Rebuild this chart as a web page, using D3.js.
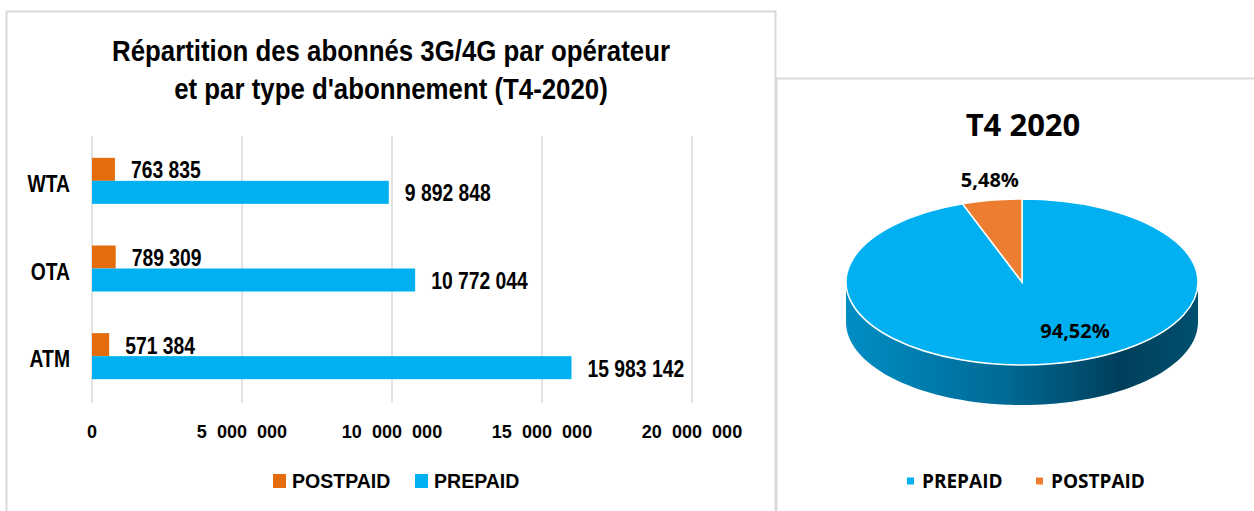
<!DOCTYPE html>
<html>
<head>
<meta charset="utf-8">
<script src="https://cdn.jsdelivr.net/npm/d3@7"></script>
<style>
  body { margin: 0; background: #fff; }
  .arial { font-family: "Liberation Sans", Arial, sans-serif; font-weight: bold; }
  .cal { font-family: "Open Sans", "Noto Sans", sans-serif; font-weight: bold; }
</style>
</head>
<body>
<div id="chart"></div>
<script>
// data
const operators = ["WTA", "OTA", "ATM"]
const types = ["POSTPAID", "PREPAID"]
const postpaid = [763835, 789309, 571384]
const prepaid = [9892848, 10772044, 15983142]
const xTicks = [0, 5000000, 10000000, 15000000, 20000000]
const titleLines = ["Répartition des abonnés 3G/4G par opérateur", "et par type d'abonnement (T4-2020)"]

const pieTitle = "T4 2020"
const pieLabels = ["PREPAID", "POSTPAID"]
const pieShares = [0.9452, 0.0548]

const barColors = { POSTPAID: "#e46c0a", PREPAID: "#00b0f0" }
const pieColors = { PREPAID: "#00b0f0", POSTPAID: "#ed7d31" }

const W = 1254, H = 511

const svg = d3.select("#chart")
    .append("svg")
    .attr("width", W)
    .attr("height", H)

// the original text is a narrow bold face, so squeeze Liberation Sans horizontally
function squeeze(sel, k) {
    sel.each(function () {
        const len = this.getComputedTextLength()
        d3.select(this).attr("textLength", len * k).attr("lengthAdjust", "spacingAndGlyphs")
    })
}

// panel frames
svg.append("rect").attr("x", 6.5).attr("y", 11.5).attr("width", 769).attr("height", 520)
    .attr("fill", "none").attr("stroke", "#d9d9d9").attr("stroke-width", 2)
svg.append("rect").attr("x", 776.5).attr("y", 78.5).attr("width", 490).attr("height", 460)
    .attr("fill", "#fff").attr("stroke", "#d9d9d9").attr("stroke-width", 2)

// ---------- left: grouped horizontal bars ----------
const fr = d3.formatLocale({ decimal: ",", thousands: "\u00a0", grouping: [3], currency: ["", ""] })
const frTick = d3.formatLocale({ decimal: ",", thousands: "\u00a0\u00a0", grouping: [3], currency: ["", ""] })

const rows = operators.map((op, i) => ({ op: op, POSTPAID: postpaid[i], PREPAID: prepaid[i] }))

const x = d3.scaleLinear().domain([0, 20000000]).range([92, 692])
const y0 = d3.scaleBand().domain(operators).range([137, 400]).paddingInner(0.475).paddingOuter(0.2375)
const y1 = d3.scaleBand().domain(types).range([0, y0.bandwidth()])

svg.append("g").attr("class", "arial")
    .selectAll("text")
    .data(titleLines)
    .enter().append("text")
    .attr("x", 391)
    .attr("y", (d, i) => 61 + i * 38)
    .attr("text-anchor", "middle").attr("font-size", 29)
    .text(d => d)
    .call(squeeze, 0.89)

// gridlines
svg.append("g")
    .selectAll("line")
    .data(xTicks)
    .enter().append("line")
    .attr("x1", d => x(d)).attr("x2", d => x(d))
    .attr("y1", 136).attr("y2", 403)
    .attr("stroke", "#d9d9d9").attr("stroke-width", 1.5)

svg.append("g").attr("class", "arial")
    .selectAll("text")
    .data(xTicks)
    .enter().append("text")
    .attr("x", d => x(d)).attr("y", 431)
    .attr("dy", "0.35em")
    .attr("text-anchor", "middle").attr("font-size", 19)
    .text(d => frTick.format(",")(d))
    .call(squeeze, 0.95)

svg.append("g").attr("class", "arial")
    .selectAll("text")
    .data(operators)
    .enter().append("text")
    .attr("x", 70).attr("y", d => y0(d) + y0.bandwidth() / 2 + 3)
    .attr("dy", "0.35em")
    .attr("text-anchor", "end").attr("font-size", 23)
    .text(d => d)
    .call(squeeze, 0.84)

const grp = svg.append("g")
    .selectAll("g")
    .data(rows)
    .enter().append("g")
    .attr("transform", d => "translate(0," + y0(d.op) + ")")

grp.selectAll("rect")
    .data(d => types.map(t => ({ key: t, value: d[t] })))
    .enter().append("rect")
    .attr("x", x(0))
    .attr("y", d => y1(d.key))
    .attr("width", d => x(d.value) - x(0))
    .attr("height", y1.bandwidth())
    .attr("fill", d => barColors[d.key])

grp.selectAll("text")
    .data(d => types.map(t => ({ key: t, value: d[t] })))
    .enter().append("text")
    .attr("class", "arial")
    .attr("x", d => x(d.value) + 16)
    .attr("y", d => y1(d.key) + y1.bandwidth() / 2 + 1)
    .attr("dy", "0.35em")
    .attr("font-size", 23)
    .text(d => fr.format(",")(d.value))
    .call(squeeze, 0.84)

// legend
const leg = svg.append("g").selectAll("g")
    .data(types)
    .enter().append("g")
    .attr("transform", (d, i) => "translate(" + [273, 415][i] + ",474)")
leg.append("rect").attr("width", 13).attr("height", 14).attr("fill", d => barColors[d])
leg.append("text").attr("class", "arial")
    .attr("x", 19).attr("y", 7).attr("dy", "0.35em")
    .attr("font-size", 21)
    .text(d => d)
    .call(squeeze, 0.93)

// ---------- right: 3D-looking pie ----------
const cx = 1022, cy = 282, rx = 176, ry = 83, depth = 40

svg.append("text").attr("class", "cal")
    .attr("x", 1023).attr("y", 125).attr("dy", "0.35em")
    .attr("text-anchor", "middle").attr("font-size", 31)
    .text(pieTitle)

const pieData = pieLabels.map((k, i) => ({ key: k, value: pieShares[i] }))
const arcs = d3.pie().sort(null).value(d => d.value)(pieData)

const defs = svg.append("defs")
const grad = defs.append("linearGradient").attr("id", "side")
    .attr("gradientUnits", "userSpaceOnUse")
    .attr("x1", cx - rx).attr("x2", cx + rx).attr("y1", 0).attr("y2", 0)
grad.selectAll("stop")
    .data([[0, "#008ec4"], [0.45, "#006a95"], [0.78, "#003f5b"], [1, "#00506f"]])
    .enter().append("stop")
    .attr("offset", d => d[0]).attr("stop-color", d => d[1])

function pt(a, dy) {
    return [cx + rx * Math.sin(a), cy - ry * Math.cos(a) + dy]
}

// side walls: only the front half (angles between pi/2 and 3pi/2) is visible
arcs.forEach(a => {
    const a0 = Math.max(a.startAngle, Math.PI / 2)
    const a1 = Math.min(a.endAngle, Math.PI * 1.5)
    if (a1 <= a0) return
    const n = 80
    const top = d3.range(n + 1).map(i => pt(a0 + (a1 - a0) * i / n, 0))
    const bot = d3.range(n + 1).map(i => pt(a1 - (a1 - a0) * i / n, depth))
    svg.append("path")
        .attr("d", "M" + top.concat(bot).join("L") + "Z")
        .attr("fill", a.data.key === "PREPAID" ? "url(#side)" : "#b85a1c")
})

const arc = d3.arc().innerRadius(0).outerRadius(rx)
svg.append("g")
    .attr("transform", "translate(" + cx + "," + cy + ") scale(1," + (ry / rx) + ")")
    .selectAll("path")
    .data(arcs)
    .enter().append("path")
    .attr("d", arc)
    .attr("fill", d => pieColors[d.data.key])
    .attr("stroke", "#fff")
    .attr("stroke-width", 1.5)
    .attr("vector-effect", "non-scaling-stroke")

const pct = fr.format(".2%")
svg.append("g").attr("class", "cal")
    .selectAll("text")
    .data(arcs)
    .enter().append("text")
    .attr("x", d => {
        const m = (d.startAngle + d.endAngle) / 2
        return d.data.key === "PREPAID" ? cx + 53 : pt(m, 0)[0] - 2
    })
    .attr("y", d => {
        const m = (d.startAngle + d.endAngle) / 2
        return d.data.key === "PREPAID" ? cy - ry * 0.6 * Math.cos(m) : pt(m, 0)[1] - 20
    })
    .attr("dy", "0.35em")
    .attr("text-anchor", "middle").attr("font-size", 20)
    .text(d => pct(d.data.value))

const leg2 = svg.append("g").selectAll("g")
    .data(pieLabels)
    .enter().append("g")
    .attr("transform", (d, i) => "translate(" + [907, 1036][i] + ",481)")
leg2.append("rect").attr("y", -3.5).attr("width", 7).attr("height", 7).attr("fill", d => pieColors[d])
leg2.append("text").attr("class", "cal")
    .attr("x", 15).attr("dy", "0.35em")
    .attr("font-size", 19)
    .text(d => d)
</script>
</body>
</html>
